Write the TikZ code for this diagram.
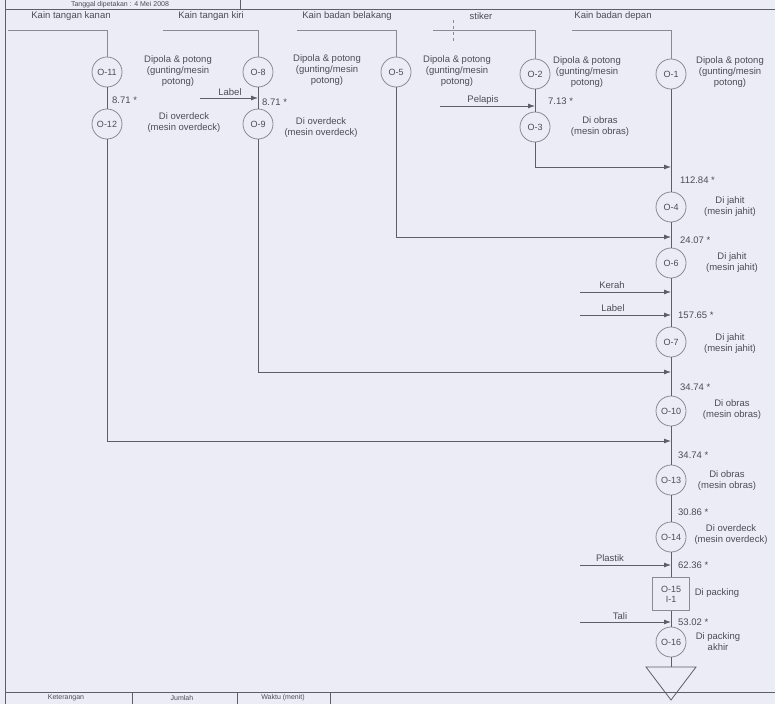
\documentclass[tikz,border=0pt]{standalone}
\usepackage{fontspec}
\setmainfont{Liberation Sans}
\usetikzlibrary{arrows.meta}
\definecolor{bg}{HTML}{ECECF6}
\definecolor{ln}{HTML}{5E5E66}
\definecolor{cl}{HTML}{8A8A92}
\definecolor{tx}{HTML}{4C4C54}
\begin{document}
\begin{tikzpicture}[x=1pt,y=-1pt,
 every node/.style={font=\fontsize{9.5}{11}\selectfont, text=tx, inner sep=0pt},
 op/.style={circle, draw=cl, line width=0.8pt, minimum size=30pt, font=\fontsize{9}{10}\selectfont},
 opbox/.style={draw=cl, line width=0.8pt, minimum width=37pt, minimum height=33pt, align=center, font=\fontsize{9}{10}\selectfont},
 desc/.style={align=center},
 tm/.style={anchor=west},
 small/.style={font=\fontsize{7}{8}\selectfont},
 wire/.style={draw=ln, line width=0.8pt},
 faint/.style={draw=cl, line width=0.8pt},
 arr/.style={wire, -{Latex[length=7pt,width=5pt]}},
]
\fill[bg] (0,0) rectangle (775,704);
\useasboundingbox (0,0) rectangle (775,704);

% frame
\draw[wire] (5,0) -- (5,704);
\draw[wire] (5,9) -- (775,9);
\draw[wire] (240,0) -- (240,9);
\node[small] (hdr) at (120,4.5) {Tanggal dipetakan : 4 Mei 2008};
\draw[wire] (5,692) -- (775,692);
\draw[wire] (132,692) -- (132,704);
\draw[wire] (237,692) -- (237,704);
\draw[wire] (330,692) -- (330,704);
\node[small] (f1) at (66,698) {Keterangan};
\node[small] (f2) at (182,698) {Jumlah};
\node[small] (f3) at (283,698) {Waktu (menit)};

% material labels
\node (lk1) at (71,16) {Kain tangan kanan};
\node (lk2) at (211,16) {Kain tangan kiri};
\node (lk3) at (347,16) {Kain badan belakang};
\node (lk4) at (481,16) {stiker};
\node (lk5) at (613,16) {Kain badan depan};
\coordinate (s1) at (8,30);
\coordinate (s2) at (163,30);
\coordinate (s3) at (297,30);
\coordinate (s4) at (433,30);
\coordinate (s5) at (572,30);
\draw[faint, dashed] (453,20) -- (453,42);

% operations
\node[op] (o11) at (107,72) {O-11};
\node[op] (o12) at (107,124) {O-12};
\node[op] (o8) at (258,72) {O-8};
\node[op] (o9) at (258,124) {O-9};
\node[op] (o5) at (396,72) {O-5};
\node[op] (o2) at (535,74) {O-2};
\node[op] (o3) at (535,127) {O-3};
\node[op] (o1) at (671,74) {O-1};
\node[op] (o4) at (671,207) {O-4};
\node[op] (o6) at (671,263) {O-6};
\node[op] (o7) at (671,342) {O-7};
\node[op] (o10) at (671,411) {O-10};
\node[op] (o13) at (671,480) {O-13};
\node[op] (o14) at (671,537) {O-14};
\node[opbox] (o15) at (671,594) {O-15\\I-1};
\node[op] (o16) at (671,642) {O-16};
\coordinate (tri) at (671,667);

% descriptions
\node[desc] (d11) at (178,71) {Dipola \& potong\\(gunting/mesin\\potong)};
\node[desc] (d8) at (327,70) {Dipola \& potong\\(gunting/mesin\\potong)};
\node[desc] (d5) at (457,71) {Dipola \& potong\\(gunting/mesin\\potong)};
\node[desc] (d2) at (587,72) {Dipola \& potong\\(gunting/mesin\\potong)};
\node[desc] (d1) at (730,72) {Dipola \& potong\\(gunting/mesin\\potong)};
\node[desc] (d12) at (184,123) {Di overdeck\\(mesin overdeck)};
\node[desc] (d9) at (321,128) {Di overdeck\\(mesin overdeck)};
\node[desc] (d3) at (600,127) {Di obras\\(mesin obras)};
\node[desc] (d4) at (730,207) {Di jahit\\(mesin jahit)};
\node[desc] (d6) at (732,263) {Di jahit\\(mesin jahit)};
\node[desc] (d7) at (730,344) {Di jahit\\(mesin jahit)};
\node[desc] (d10) at (732,410) {Di obras\\(mesin obras)};
\node[desc] (d13) at (727,481) {Di obras\\(mesin obras)};
\node[desc] (d14) at (731,535) {Di overdeck\\(mesin overdeck)};
\node[desc] (d15) at (717,593) {Di packing};
\node[desc] (d16) at (718,642) {Di packing\\akhir};

% times
\node[tm] (t1) at (112,100) {8.71 *};
\node[tm] (t2) at (262,102) {8.71 *};
\node[tm] (t3) at (548,101) {7.13 *};
\node[tm] (t4) at (680,180) {112.84 *};
\node[tm] (t5) at (680,240) {24.07 *};
\node[tm] (t6) at (678,315) {157.65 *};
\node[tm] (t7) at (680,387) {34.74 *};
\node[tm] (t8) at (678,455) {34.74 *};
\node[tm] (t9) at (678,512) {30.86 *};
\node[tm] (t10) at (678,565) {62.36 *};
\node[tm] (t11) at (678,622) {53.02 *};

% material lines
\draw[faint] (s1) -| (o11);
\draw[faint] (s2) -| (o8);
\draw[faint] (s3) -| (o5);
\draw[faint] (s4) -| (o2);
\draw[faint] (s5) -| (o1);

% vertical flows
\draw[wire] (o11) -- (o12);
\draw[wire] (o8) -- (o9);
\draw[wire] (o2) -- (o3);
\draw[wire] (o1) -- (o4);
\draw[wire] (o4) -- (o6);
\draw[wire] (o6) -- (o7);
\draw[wire] (o7) -- (o10);
\draw[wire] (o10) -- (o13);
\draw[wire] (o13) -- (o14);
\draw[wire] (o14) -- (o15);
\draw[wire] (o15) -- (o16);
\draw[wire] (o16) -- (tri);
\draw[wire] (tri) ++(-25,0) -- ++(50,0) -- ++(-25,33) -- cycle;

% joins into main line
\coordinate (j1) at (671,167);
\coordinate (j2) at (671,237);
\coordinate (j5) at (671,372);
\coordinate (j6) at (671,441);
\draw[arr] (o3) |- (j1);
\draw[arr] (o5) |- (j2);
\draw[arr] (o9) |- (j5);
\draw[arr] (o12) |- (j6);

% extra inputs
\coordinate (a1) at (200,98);  \coordinate (b1) at (258,98);
\coordinate (a2) at (440,106); \coordinate (b2) at (535,106);
\coordinate (a3) at (580,292); \coordinate (b3) at (671,292);
\coordinate (a4) at (580,315); \coordinate (b4) at (671,315);
\coordinate (a5) at (580,565); \coordinate (b5) at (671,565);
\coordinate (a6) at (580,622); \coordinate (b6) at (671,622);
\draw[arr] (a1) -- (b1);
\draw[arr] (a2) -- (b2);
\draw[arr] (a3) -- (b3);
\draw[arr] (a4) -- (b4);
\draw[arr] (a5) -- (b5);
\draw[arr] (a6) -- (b6);
\node (i1) at (230,92) {Label};
\node (i2) at (483,100) {Pelapis};
\node (i3) at (612,285) {Kerah};
\node (i4) at (613,308) {Label};
\node (i5) at (610,558) {Plastik};
\node (i6) at (620,616) {Tali};
\end{tikzpicture}
\end{document}
